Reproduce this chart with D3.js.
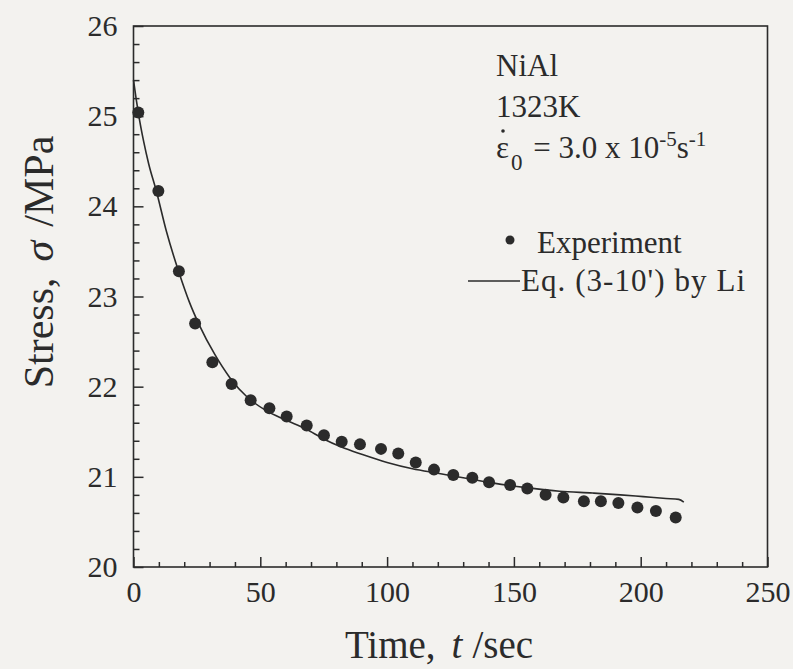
<!DOCTYPE html>
<html>
<head>
<meta charset="utf-8">
<script src="https://cdn.jsdelivr.net/npm/d3@7"></script>
<style>
  body { margin: 0; background: #f3f2ef; }
  svg { display: block; }
  text { font-family: "Liberation Serif", "Times New Roman", serif; fill: #2b2b2b; }
</style>
</head>
<body>
<div id="chart"></div>
<script>
var expTime = [1.9, 9.8, 17.9, 24.3, 31.1, 38.7, 46.2, 53.6, 60.4, 68.3, 75.1, 82.1, 89.3, 97.6, 104.4,
  111.3, 118.5, 126.1, 133.6, 140.2, 148.5, 155.3, 162.5, 169.5, 177.6, 184.3, 191.2, 198.7, 206.0, 213.8];
var expStress = [25.04, 24.17, 23.28, 22.70, 22.27, 22.03, 21.85, 21.76, 21.67, 21.57, 21.46, 21.39, 21.36, 21.31, 21.26,
  21.16, 21.08, 21.02, 20.99, 20.94, 20.91, 20.87, 20.80, 20.77, 20.73, 20.73, 20.71, 20.66, 20.62, 20.55];

// Eq. (3-10') curve
var fitTime = [0, 1, 2, 4, 6, 9, 13, 18, 22, 26, 32, 38, 45, 52, 60, 68, 75, 82, 90, 100, 110, 120, 130,
  142, 155, 168, 181, 192, 201, 210, 215, 217];
var fitStress = [25.40, 25.20, 25.02, 24.72, 24.47, 24.17, 23.72, 23.26, 22.94, 22.68, 22.36, 22.10, 21.88, 21.74,
  21.63, 21.53, 21.42, 21.33, 21.25, 21.16, 21.09, 21.04, 20.99, 20.93, 20.88, 20.84, 20.82, 20.80, 20.78, 20.76, 20.75, 20.72];

var xTicks = [0, 50, 100, 150, 200, 250];
var yTicks = [20, 21, 22, 23, 24, 25, 26];

var width = 793, height = 669;
var ink = "#2b2b2b";

var svg = d3.select("#chart").append("svg")
  .attr("width", width)
  .attr("height", height);

// plot box
var x = d3.scaleLinear().domain([0, 250]).range([133.5, 767.5]);
var y = d3.scaleLinear().domain([20, 26]).range([567, 26]);

svg.append("rect")
  .attr("x", x(0)).attr("y", y(26))
  .attr("width", x(250) - x(0)).attr("height", y(20) - y(26))
  .attr("fill", "none").attr("stroke", ink).attr("stroke-width", 1.6);

// minor ticks, pointing inwards
var xMinor = d3.range(0, 251, 10).filter(function(d) { return d % 50 != 0; });
var yMinor = d3.range(20, 26.01, 0.2).filter(function(d) { return Math.abs(d - Math.round(d)) > 0.01; });

var xAxis = d3.axisBottom(x).tickValues(xTicks).tickSize(-10).tickPadding(14).tickFormat(d3.format("d"));
var yAxis = d3.axisLeft(y).tickValues(yTicks).tickSize(-10).tickPadding(16).tickFormat(d3.format("d"));

var gx = svg.append("g").attr("transform", "translate(0," + y(20) + ")").call(xAxis);
var gy = svg.append("g").attr("transform", "translate(" + x(0) + ",0)").call(yAxis);

svg.append("g").attr("transform", "translate(0," + y(20) + ")")
  .call(d3.axisBottom(x).tickValues(xMinor).tickSize(-5).tickFormat(""));
svg.append("g").attr("transform", "translate(" + x(0) + ",0)")
  .call(d3.axisLeft(y).tickValues(yMinor).tickSize(-6).tickFormat(""));

svg.selectAll(".domain").remove();
svg.selectAll(".tick line").attr("stroke", ink).attr("stroke-width", 1.5);
gx.selectAll("text").attr("font-size", 30).attr("fill", ink).attr("font-family", "Liberation Serif");
gy.selectAll("text").attr("font-size", 30).attr("fill", ink).attr("font-family", "Liberation Serif");

// curve
var line = d3.line()
  .x(function(d, i) { return x(fitTime[i]); })
  .y(function(d) { return y(d); })
  .curve(d3.curveMonotoneX);

svg.append("path")
  .datum(fitStress)
  .attr("d", line)
  .attr("fill", "none")
  .attr("stroke", ink)
  .attr("stroke-width", 1.6);

// experiment dots
svg.append("g")
  .selectAll("circle")
  .data(expStress)
  .enter()
  .append("circle")
  .attr("cx", function(d, i) { return x(expTime[i]); })
  .attr("cy", function(d) { return y(d); })
  .attr("r", 6)
  .attr("fill", ink);

// axis titles
var xt = svg.append("text")
  .attr("x", 439).attr("y", 658)
  .attr("text-anchor", "middle")
  .attr("font-size", 39);
xt.append("tspan").text("Time,");
xt.append("tspan").attr("dx", 16).attr("font-style", "italic").text("t");
xt.append("tspan").attr("dx", 10).text("/sec");

var yt = svg.append("text")
  .attr("transform", "translate(53,262) rotate(-90)")
  .attr("text-anchor", "middle")
  .attr("font-size", 42);
yt.append("tspan").text("Stress,");
yt.append("tspan").attr("dx", 16).attr("font-style", "italic").text("σ");
yt.append("tspan").attr("dx", 14).text("/MPa");

// annotation block
var lx = 496;
svg.append("text").attr("x", lx).attr("y", 76).attr("font-size", 31).text("NiAl");
svg.append("text").attr("x", lx).attr("y", 117).attr("font-size", 31).text("1323K");

var rate = svg.append("text").attr("x", lx).attr("y", 158).attr("font-size", 31);
rate.append("tspan").text("\u03B5");
rate.append("tspan").attr("dx", 2).attr("dy", 12).attr("font-size", 23).text("0");
rate.append("tspan").attr("dx", 3).attr("dy", -12).text(" = 3.0 x 10");
rate.append("tspan").attr("dy", -12).attr("font-size", 21).text("-5");
rate.append("tspan").attr("dy", 12).text("s");
rate.append("tspan").attr("dy", -12).attr("font-size", 21).text("-1");
// dot over epsilon
svg.append("circle").attr("cx", lx + 7).attr("cy", 131).attr("r", 1.8).attr("fill", ink);

// legend
svg.append("circle").attr("cx", 510).attr("cy", 240).attr("r", 4.5).attr("fill", ink);
svg.append("text").attr("x", 537).attr("y", 253).attr("font-size", 31).text("Experiment");

svg.append("line")
  .attr("x1", 468).attr("x2", 520)
  .attr("y1", 281).attr("y2", 281)
  .attr("stroke", ink).attr("stroke-width", 1.5);
svg.append("text").attr("x", 521).attr("y", 291).attr("font-size", 31)
  .attr("textLength", 224).attr("lengthAdjust", "spacing")
  .text("Eq. (3-10') by Li");
</script>
</body>
</html>
